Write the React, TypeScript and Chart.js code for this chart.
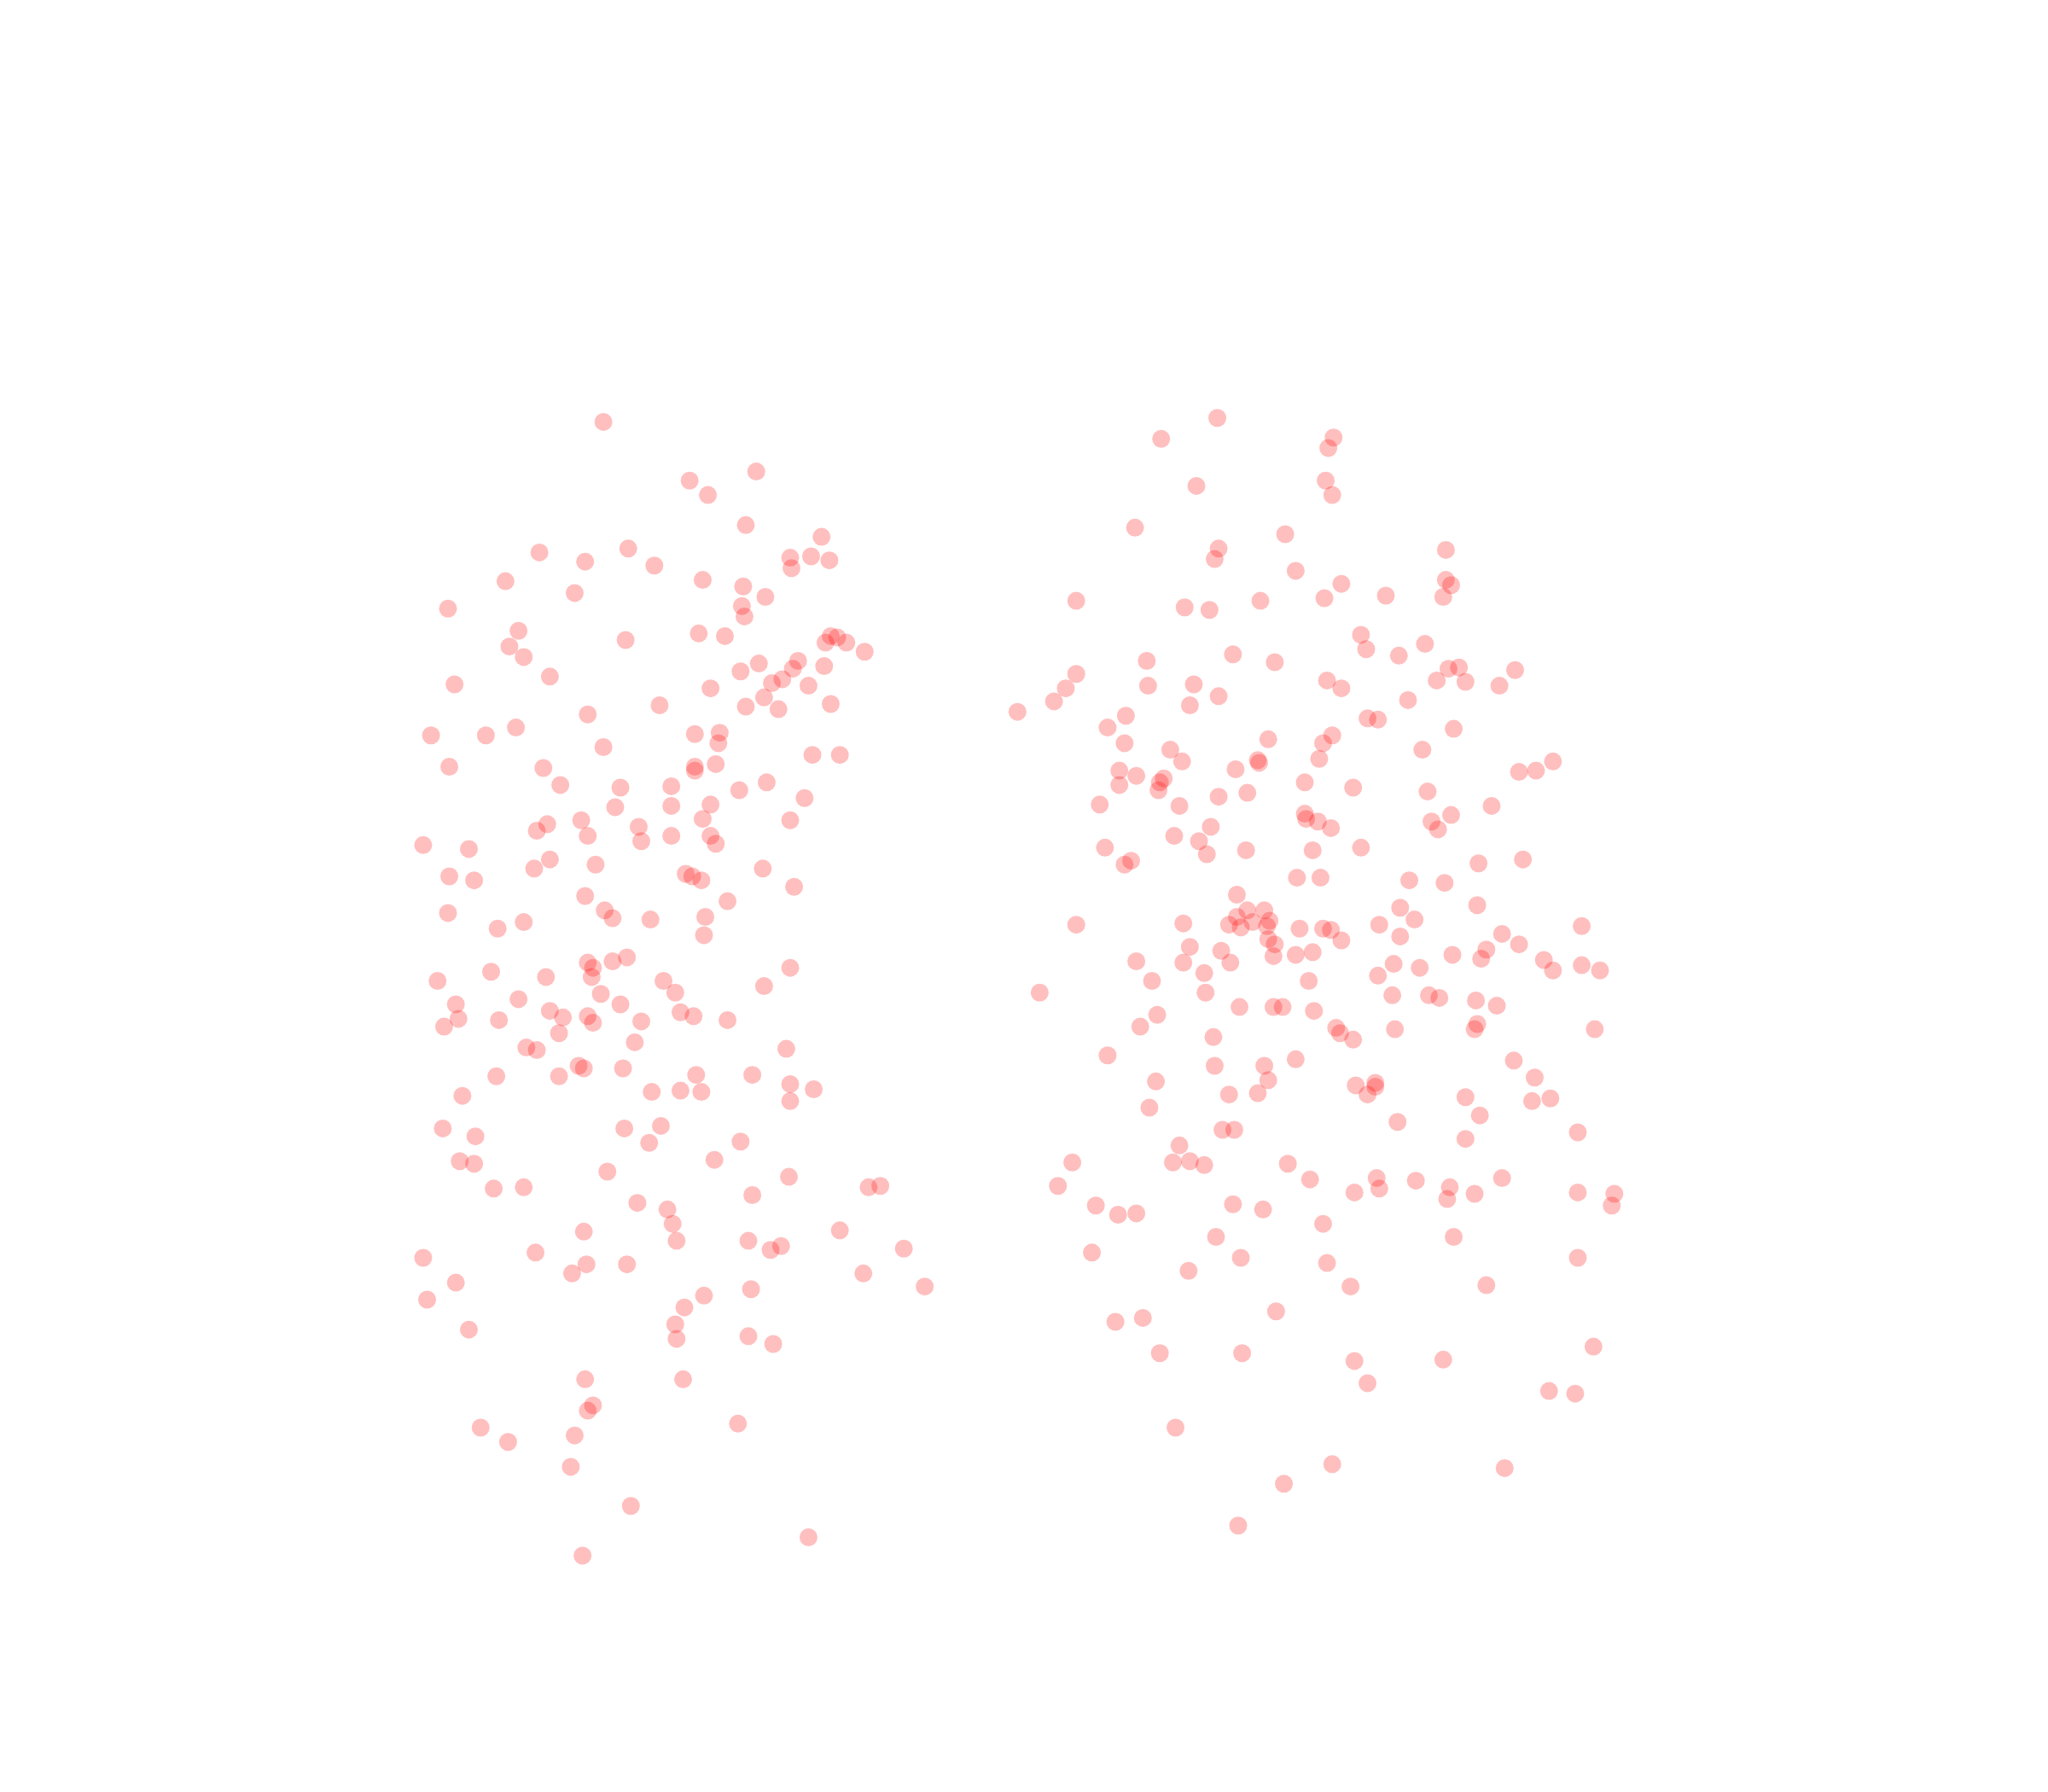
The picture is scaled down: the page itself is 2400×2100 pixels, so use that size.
import React, { useEffect, useRef } from "react";
import Chart from "chart.js/auto";

// Point positions (x grows right, y grows downward).
const leftGroupX = [462,579,528,542,571,629,413,481,605,606,621,635,448,501,387,538,440,569,586,343,568,570,397,535,479,555,390,401,636,641,632,648,662,611,631,607,581,567,421,348,544,599,591,619,585,571,596,636,505,450,330,372,395,532,551,550,462,622,643,344,416,532,532,548,587,429,475,514,566,616,471,514,544,538,445,605,419,411,489,450,514,544,491,548,324,359,421,456,409,344,363,525,530,537,584,608,448,557,343,463,469,498,401,540,381,539,480,450,454,469,453,605,376,418,335,508,585,460,517,397,349,475,421,521,431,450,454,491,531,557,351,340,382,428,486,403,411,602,443,447,477,428,380,533,576,605,623,521,537,499,354,605,478,506,339,364,497,567,547,352,363,465,604,378,401,665,674,576,488,511,515,643,447,573,518,598,590,692,410,324,449,480,438,661,349,708,575,539,327,524,517,359,573,518,592,448,523,454,450,565,368,389,440,437,483,619,446];
const leftGroupY = [323,361,368,379,402,411,423,420,427,435,426,429,430,433,445,444,454,449,457,466,464,472,483,485,490,487,495,503,487,488,492,492,499,506,510,512,508,514,518,524,527,520,523,525,534,541,543,539,540,547,563,563,557,562,561,569,572,578,578,587,588,587,590,585,599,601,603,602,605,611,618,617,616,627,628,628,631,636,633,640,640,640,644,646,647,650,658,662,665,671,674,669,671,674,665,679,686,690,699,697,703,704,706,702,711,716,733,737,741,736,748,741,744,748,751,751,755,761,760,765,769,769,774,775,779,778,783,782,778,781,780,786,781,791,798,802,804,803,816,818,818,824,824,823,823,830,834,835,836,836,839,843,864,862,864,870,875,874,888,889,891,897,901,910,909,909,908,915,921,926,937,942,943,950,950,954,957,956,959,963,968,968,975,975,982,985,987,992,995,1001,1014,1018,1023,1025,1029,1056,1056,1076,1080,1090,1093,1104,1099,1123,1153,1177,1191];

const rightGroupX = [932,889,1021,1017,916,1015,1020,869,984,933,930,1107,992,1027,1107,1111,1105,1061,1014,965,824,907,926,1042,1046,1071,1091,944,976,878,1109,1117,1100,1122,1160,1148,1016,1027,824,816,807,779,879,914,933,911,1078,862,848,861,1047,1055,1113,971,1020,1013,1010,896,905,963,964,946,1089,857,870,891,888,857,887,1163,1176,1189,999,1036,1093,933,955,842,903,1142,999,1000,1009,1019,1111,1096,1101,927,899,918,924,846,861,866,954,1005,1042,1132,1166,993,1011,1079,1106,947,955,968,947,941,950,959,972,970,971,976,975,824,906,911,935,942,906,870,882,922,923,796,995,1013,1019,1027,1056,1072,992,1005,1002,1055,1067,1087,1112,1150,1163,1138,1134,1182,1189,1211,1225,1211,1131,1072,1083,1066,1094,1102,1130,1146,1131,1129,1221,949,975,982,1006,886,873,1023,1026,1036,1068,929,848,930,968,971,992,963,941,885,880,1038,1053,1053,1047,1159,1175,1173,1187,1122,1133,1070,1122,1208,936,945,903,821,898,911,922,986,810,1003,1054,1056,1084,1110,1150,1037,1129,1208,1236,1234,1108,839,856,870,944,967,1013,1113,931,836,950,1016,1208,910,1034,1138,977,854,875,888,951,1037,1105,1220,1047,1186,1206,900,1020,983,1152,948];
const rightGroupY = [320,336,335,343,372,368,379,404,409,420,428,421,437,447,444,448,457,456,458,460,460,465,467,486,497,502,493,501,507,506,512,511,521,522,513,525,521,527,516,527,537,545,525,524,533,540,536,548,557,569,550,551,558,566,563,569,581,574,583,582,584,589,574,590,594,596,599,601,605,591,590,583,599,603,606,610,607,616,617,617,623,627,629,634,624,629,635,633,640,644,654,649,662,659,651,651,649,661,658,672,672,674,676,685,697,697,702,708,710,706,705,709,719,723,732,708,707,725,728,737,737,736,751,745,760,760,711,711,712,720,708,717,731,729,751,747,738,741,731,715,723,727,734,735,743,739,743,709,693,695,704,762,762,764,766,770,784,788,788,771,771,771,774,777,786,787,791,796,788,794,808,816,816,827,811,837,838,828,848,831,829,832,838,812,825,843,841,840,854,859,872,867,865,865,877,890,890,889,892,891,908,903,902,910,904,909,902,913,914,913,914,923,918,923,930,929,922,926,937,947,947,959,963,967,963,973,985,984,1004,1012,1009,1036,1036,1042,1041,1031,1059,1065,1067,1093,1121,1136,1124,1168];

const pictureWidth = 1568;
const pictureHeight = 1372;

const markerColor = "rgba(255, 0, 0, 0.25)";

function toPoints(xs: number[], ys: number[]) {
  return xs.map((x, i) => ({ x, y: ys[i] }));
}

export default function App() {
  const canvasRef = useRef<HTMLCanvasElement | null>(null);

  useEffect(() => {
    const canvas = canvasRef.current;
    if (!canvas) return;
    const chart = new Chart(canvas, {
      type: "scatter",
      data: {
        datasets: [
          {
            label: "A",
            data: toPoints(leftGroupX, leftGroupY),
            backgroundColor: markerColor,
            borderWidth: 0,
            pointRadius: 10.5,
            pointHoverRadius: 10.5,
          },
          {
            label: "B",
            data: toPoints(rightGroupX, rightGroupY),
            backgroundColor: markerColor,
            borderWidth: 0,
            pointRadius: 10.5,
            pointHoverRadius: 10.5,
          },
        ],
      },
      options: {
        responsive: false,
        maintainAspectRatio: false,
        animation: false,
        devicePixelRatio: 1,
        layout: { padding: 0, autoPadding: false },
        plugins: {
          legend: { display: false },
          tooltip: { enabled: false },
          title: { display: false },
        },
        scales: {
          x: { type: "linear", min: 0, max: pictureWidth, display: false },
          y: { type: "linear", min: 0, max: pictureHeight, reverse: true, display: false },
        },
      },
    });
    return () => chart.destroy();
  }, []);

  return (
    <div
      style={{
        position: "absolute",
        left: 0,
        top: 0,
        width: 2400,
        height: 2100,
        background: "#ffffff",
      }}
    >
      <canvas ref={canvasRef} width={2400} height={2100} style={{ width: 2400, height: 2100 }} />
    </div>
  );
}
